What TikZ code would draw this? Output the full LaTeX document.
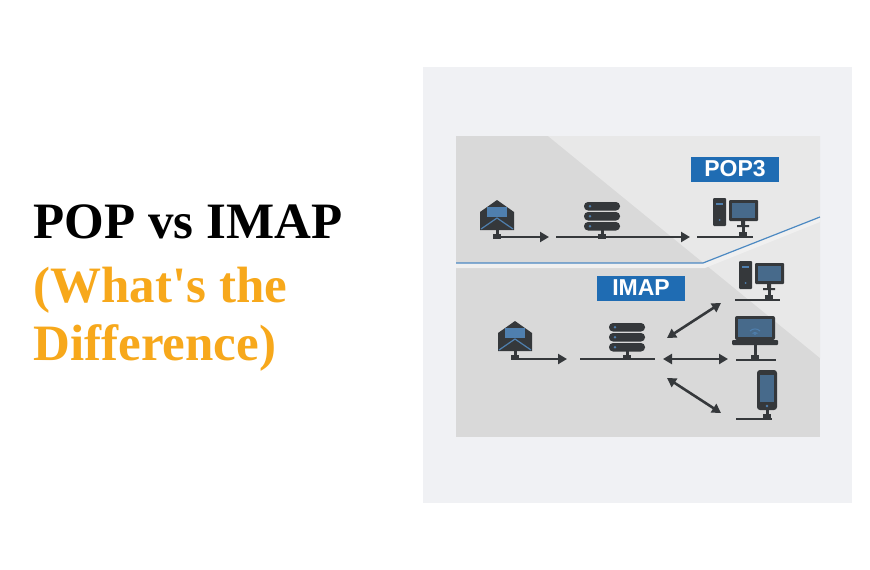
\documentclass[tikz,border=0pt]{standalone}
\usepackage{fontspec}
\setmainfont{Liberation Serif}
\newfontfamily\labelfont{Liberation Sans}
\usetikzlibrary{positioning,arrows.meta}
\definecolor{icondark}{HTML}{35383B}
\definecolor{iconblue}{HTML}{4F7FAE}
\definecolor{tagblue}{HTML}{1F6CB3}
\definecolor{titleorange}{HTML}{F7A81B}
\definecolor{panelgray}{HTML}{F0F1F4}
\tikzset{
  envelope/.pic={
    \fill[icondark] (-17,-3) -- (0,-15) -- (17,-3) -- (17,15) -- (-17,15) -- cycle;
    \fill[iconblue] (-10,-8) rectangle (10,2);
    \draw[iconblue,line width=1.2pt] (-16,14) -- (0,3) -- (16,14);
    \fill[icondark] (-1.5,15) rectangle (1.5,20);
    \fill[icondark] (-4,19) rectangle (4,24);
  },
  server/.pic={
    \foreach \yy in {-14,-4,6}{
      \fill[icondark,rounded corners=4pt] (-18,\yy) rectangle (18,\yy+8.5);
      \fill[iconblue] (-12,\yy+4.25) circle (1.4);
    }
    \fill[icondark] (-1.5,14) rectangle (1.5,19);
    \fill[icondark] (-4,18) rectangle (4,23);
  },
  desktop/.pic={
    \fill[icondark,rounded corners=1pt] (-22,-15) rectangle (-9,13);
    \fill[iconblue] (-19,-10) rectangle (-12,-8.5);
    \fill[iconblue] (-15.5,7) circle (1);
    \fill[icondark,rounded corners=1pt] (-6,-13) rectangle (23,8);
    \fill[iconblue!70!icondark] (-3,-10) rectangle (20,5);
    \fill[icondark] (6,8) rectangle (10,12) (2,12) rectangle (14,14);
    \fill[icondark] (6.5,14) rectangle (9.5,20);
    \fill[icondark] (4,19) rectangle (12,24);
  },
  laptop/.pic={
    \fill[icondark,rounded corners=2pt] (-20,-18) rectangle (20,6);
    \fill[iconblue!70!icondark] (-17,-15) rectangle (17,3);
    \draw[iconblue,line width=1pt] (-5,-3) arc (225:315:7.07) (-2.5,-0.5) arc (225:315:3.5);
    \fill[iconblue] (0,0) circle (1.1);
    \fill[icondark,rounded corners=1pt] (-23,6) rectangle (23,11);
    \fill[icondark] (-1.5,11) rectangle (1.5,22);
    \fill[icondark] (-4,21) rectangle (4,26);
  },
  phone/.pic={
    \fill[icondark,rounded corners=3pt] (-10,-21) rectangle (10,19);
    \fill[iconblue!70!icondark] (-7,-16) rectangle (7,11);
    \fill[iconblue] (0,15) circle (1.3);
    \fill[icondark] (-1.5,19) rectangle (1.5,24);
    \fill[icondark] (-4,23) rectangle (4,28);
  },
  tag/.style={fill=tagblue, text=white, font=\labelfont\bfseries\fontsize{23}{23}\selectfont,
    inner xsep=6pt, inner ysep=1pt, minimum width=88, minimum height=25},
  title/.style={anchor=west, font=\bfseries\fontsize{51}{51}\selectfont},
  wire/.style={icondark, line width=2.6pt},
  arrow/.style={wire, -{Triangle[length=9pt,width=10pt]}},
  twoway/.style={wire, {Triangle[length=9pt,width=10pt]}-{Triangle[length=9pt,width=10pt]}}
}
\begin{document}
\begin{tikzpicture}[x=1pt,y=-1pt]
  \useasboundingbox[fill=white] (0,0) rectangle (870,570);
  % title
  \node[title] (heading) at (30,222) {POP vs IMAP};
  \node[title, text=titleorange] (sub1) at (30,290) {(What\textquotesingle s the};
  \node[title, text=titleorange] (sub2) at (30,348) {Difference)};
  % panel
  \fill[panelgray] (423,67) rectangle (852,503);
  \fill[black!15] (456,136) rectangle (820,437);
  \fill[black!9] (548,136) -- (820,136) -- (820,358) -- cycle;
  \fill[black!6] (456,263) -- (703,263) -- (820,217) -- (820,222) -- (705,268) -- (456,268) -- cycle;
  \draw[tagblue!80, line width=1.2pt] (456,263) -- (703,263) -- (820,217);
  \node[tag] (pop) at (735,169) {POP3};
  \node[tag] (imap) at (641,288) {IMAP};
  % pop3 row
  \pic at (497,215) {envelope};
  \pic at (602,216) {server};
  \pic at (735,213) {desktop};
  \coordinate (pa1) at (501,237); \coordinate (pa2) at (549,237);
  \coordinate (pb1) at (556,237); \coordinate (pb2) at (690,237);
  \coordinate (pc1) at (697,237); \coordinate (pc2) at (753,237);
  \draw[arrow] (pa1) -- (pa2);
  \draw[arrow] (pb1) -- (pb2);
  \draw[wire] (pc1) -- (pc2);
  % imap row
  \pic at (515,336) {envelope};
  \pic at (627,337) {server};
  \pic at (761,276) {desktop};
  \pic at (755,334) {laptop};
  \pic at (767,391) {phone};
  \coordinate (ia1) at (519,359); \coordinate (ia2) at (567,359);
  \coordinate (ib1) at (580,359); \coordinate (ib2) at (655,359);
  \coordinate (ic1) at (663,359); \coordinate (ic2) at (728,359);
  \coordinate (id1) at (667,338); \coordinate (id2) at (721,303);
  \coordinate (ie1) at (667,378); \coordinate (ie2) at (721,413);
  \draw[arrow] (ia1) -- (ia2);
  \draw[wire] (ib1) -- (ib2);
  \draw[twoway] (ic1) -- (ic2);
  \draw[twoway] (id1) -- (id2);
  \draw[twoway] (ie1) -- (ie2);
  \draw[wire] (735,300) -- (780,300);
  \draw[wire] (736,360) -- (776,360);
  \draw[wire] (736,419) -- (772,419);
\end{tikzpicture}
\end{document}
